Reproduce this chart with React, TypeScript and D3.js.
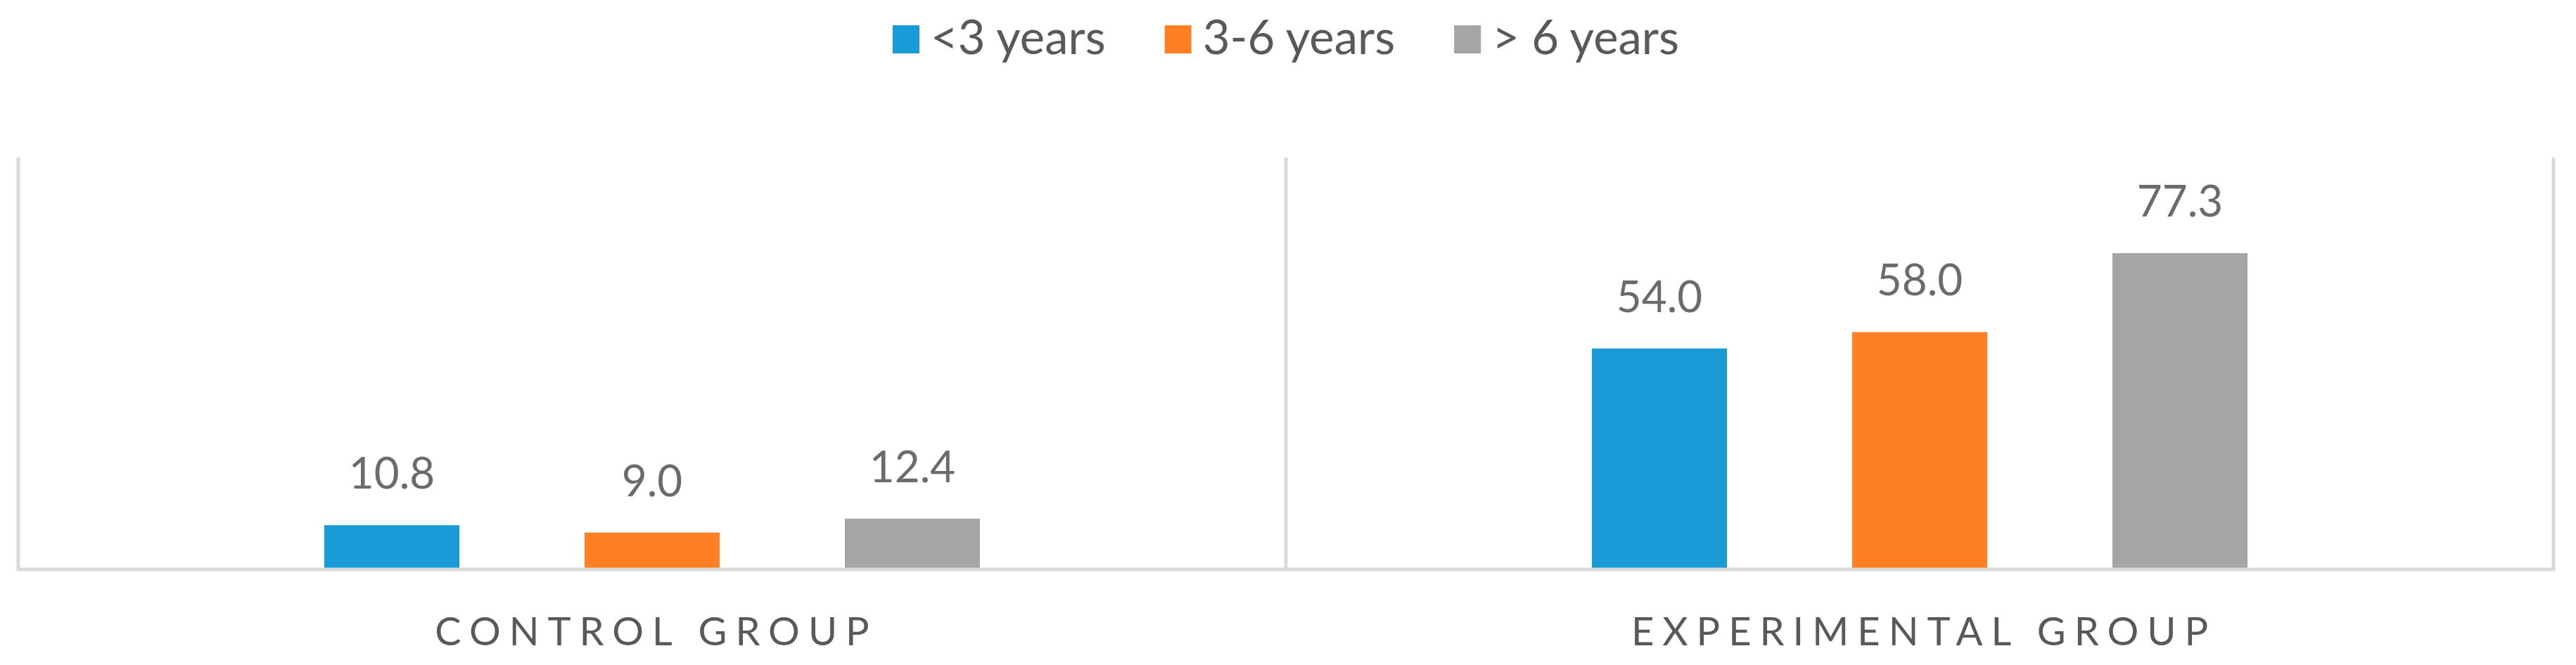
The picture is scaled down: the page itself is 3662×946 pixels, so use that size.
import * as d3 from 'd3';
import { useEffect, useRef } from 'react';

const groups = ['CONTROL GROUP', 'EXPERIMENTAL GROUP'];
const seriesNames = ['<3 years', '3-6 years', '> 6 years'];
const seriesColors = ['#199BD7', '#FF7F24', '#A5A5A5'];
const under3 = [10.8, 54.0];
const from3to6 = [9.0, 58.0];
const over6 = [12.4, 77.3];

const values = [under3, from3to6, over6];

const App = () => {
    const d3Container = useRef<SVGSVGElement | null>(null);

    useEffect(() => {
        if (!d3Container.current) return;
        document.body.style.margin = '0';

        const font = 'Lato, "Open Sans", sans-serif';

        const svg = d3.select(d3Container.current);
        svg.selectAll('*').remove();

        const x0 = d3.scaleBand<string>()
            .domain(groups)
            .range([26, 3630])
            .padding(0);

        const x1 = d3.scaleBand<string>()
            .domain(seriesNames)
            .range([0, x0.bandwidth()])
            .paddingInner(0.481)
            .paddingOuter(1.1755);

        const yScale = d3.scaleLinear()
            .domain([0, 100])
            .range([810, 228]);

        const gridColor = '#D9D9D9';
        const top = yScale(100) - 4;

        // vertical separators at the category boundaries
        const bounds = [...groups.map(g => x0(g) as number), x0.range()[1]];
        svg.append('g')
            .selectAll('line')
            .data(bounds).enter()
            .append('line')
            .attr('x1', d => d)
            .attr('x2', d => d)
            .attr('y1', top)
            .attr('y2', yScale(0))
            .attr('stroke', gridColor)
            .attr('stroke-width', 5);

        // bars
        const rows = groups.flatMap((g, gi) => seriesNames.map((s, si) => ({
            group: g, series: s, color: seriesColors[si], value: values[si][gi]
        })));

        svg.append('g')
            .selectAll('rect')
            .data(rows).enter()
            .append('rect')
            .attr('x', d => (x0(d.group) as number) + (x1(d.series) as number))
            .attr('y', d => yScale(d.value))
            .attr('width', x1.bandwidth())
            .attr('height', d => yScale(0) - yScale(d.value))
            .attr('fill', d => d.color);

        // baseline
        svg.append('line')
            .attr('x1', x0.range()[0] - 2.5)
            .attr('x2', x0.range()[1] + 2.5)
            .attr('y1', yScale(0))
            .attr('y2', yScale(0))
            .attr('stroke', gridColor)
            .attr('stroke-width', 5);

        // value labels
        svg.append('g')
            .selectAll('text')
            .data(rows).enter()
            .append('text')
            .attr('x', d => (x0(d.group) as number) + (x1(d.series) as number) + x1.bandwidth() / 2)
            .attr('y', d => yScale(d.value) - 52)
            .attr('text-anchor', 'middle')
            .attr('font-family', font)
            .attr('font-size', 62)
            .attr('fill', '#6B6B6B')
            .text(d => d.value.toFixed(1));

        // category labels
        svg.append('g')
            .selectAll('text')
            .data(groups).enter()
            .append('text')
            .attr('x', d => (x0(d) as number) + x0.bandwidth() / 2 + 6)
            .attr('y', 918)
            .attr('text-anchor', 'middle')
            .attr('font-family', font)
            .attr('font-size', 56)
            .attr('letter-spacing', 12)
            .attr('fill', '#595959')
            .text(d => d);

        // legend, centred over the chart
        const legend = svg.append('g');
        const items = legend.selectAll('g')
            .data(seriesNames).enter()
            .append('g');
        items.append('rect')
            .attr('y', 36)
            .attr('width', 38)
            .attr('height', 40)
            .attr('fill', (d, i) => seriesColors[i]);
        items.append('text')
            .attr('x', 54)
            .attr('y', 77)
            .attr('font-family', font)
            .attr('font-size', 67)
            .attr('fill', '#595959')
            .text(d => d);

        let offset = 0;
        items.each(function () {
            const node = this as SVGGElement;
            d3.select(node).attr('transform', `translate(${offset},0)`);
            const t = node.querySelector('text') as SVGTextElement;
            offset += 54 + t.getComputedTextLength() + 84;
        });
        const legendWidth = offset - 84;
        legend.attr('transform', `translate(${(x0.range()[0] + x0.range()[1]) / 2 - legendWidth / 2},0)`);
    }, []);

    return (
        <svg ref={d3Container} width={3662} height={946} style={{ display: 'block', background: '#fff' }} />
    );
};

export default App;
